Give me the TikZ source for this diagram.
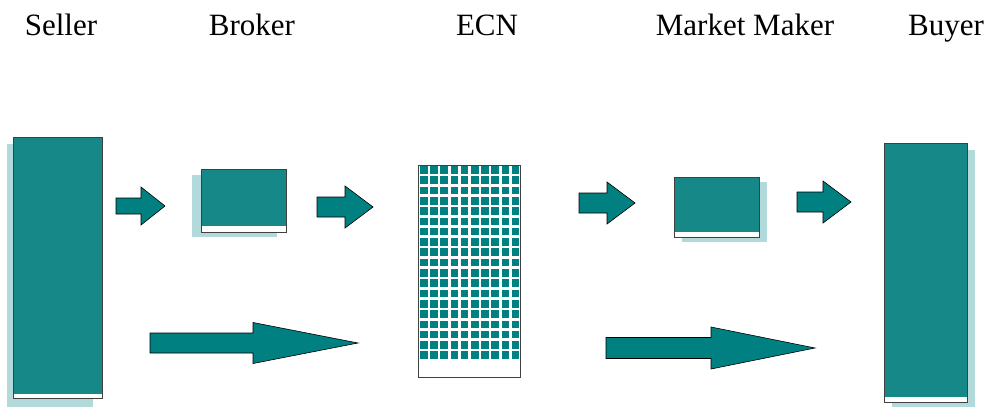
\documentclass[tikz,border=0pt]{standalone}
\usepackage{fontspec}
\setmainfont{Liberation Serif}
\usepackage{tikz}
\definecolor{tealbox}{RGB}{22,136,136}
\definecolor{tealarrow}{RGB}{0,128,128}
\definecolor{tealshade}{RGB}{178,218,218}
\newcommand{\blockarrow}[6]{%
    \draw[blk] (#1,{#3-#5}) -- (#2,{#3-#5}) -- (#2,{#3-#6}) -- (#4,#3)
        -- (#2,{#3+#6}) -- (#2,{#3+#5}) -- (#1,{#3+#5}) -- cycle;}

\begin{document}
\begin{tikzpicture}[
    x=1pt, y=-1pt,
    lbl/.style={anchor=base, inner sep=0pt, font=\fontsize{31}{36}\selectfont},
    shadowbox/.style={fill=tealshade, draw=none},
    panel/.style={anchor=north west, inner sep=0pt, outer sep=0pt, draw=black!75, line width=0.9pt, fill=white},
    blk/.style={fill=tealarrow, draw=black, line width=0.6pt, line join=miter},
    cell/.style={fill=tealarrow},
]
    \useasboundingbox (0,0) rectangle (990,407);

    \node [lbl] (lseller) at (61,35) {Seller};
    \node [lbl] (lbroker) at (252,35) {Broker};
    \node [lbl] (lecn) at (487,35) {ECN};
    \node [lbl] (lmaker) at (745,35) {Market Maker};
    \node [lbl] (lbuyer) at (946,35) {Buyer};

    \fill [shadowbox] (7,144) rectangle (93,407);
    \node [panel, minimum width=89pt, minimum height=261pt] (seller) at (13,137) {};
    \fill [tealbox] ([shift={(0.5pt,-0.5pt)}]seller.north west) rectangle ([shift={(-0.5pt,4pt)}]seller.south east);

    \fill [shadowbox] (192,175) rectangle (277,237);
    \node [panel, minimum width=85pt, minimum height=63pt] (broker) at (201,169) {};
    \fill [tealbox] ([shift={(0.5pt,-0.5pt)}]broker.north west) rectangle ([shift={(-0.5pt,6pt)}]broker.south east);

    \node [panel, minimum width=102pt, minimum height=212pt] (ecn) at (418,165) {};
    \foreach \i in {0,...,9}
        \foreach \j in {0,...,18}
            \fill [cell] ({420+10.2*\i},{166+10.3*\j}) rectangle +(7.6,7.6);

    \fill [shadowbox] (682,182) rectangle (767,242);
    \node [panel, minimum width=85pt, minimum height=60pt] (maker) at (674,177) {};
    \fill [tealbox] ([shift={(0.5pt,-0.5pt)}]maker.north west) rectangle ([shift={(-0.5pt,5pt)}]maker.south east);

    \fill [shadowbox] (892,150) rectangle (975,407);
    \node [panel, minimum width=83pt, minimum height=259pt] (buyer) at (884,143) {};
    \fill [tealbox] ([shift={(0.5pt,-0.5pt)}]buyer.north west) rectangle ([shift={(-0.5pt,5pt)}]buyer.south east);

    \blockarrow{116}{141}{206}{165}{8}{19}
    \blockarrow{317}{345}{207}{373}{10}{21}
    \blockarrow{579}{607}{203}{635}{10}{21}
    \blockarrow{797}{823}{202}{851}{10}{21}

    \blockarrow{150}{253}{343}{358}{10}{20.5}
    \blockarrow{606}{711}{348}{815}{10.5}{21}
\end{tikzpicture}
\end{document}
